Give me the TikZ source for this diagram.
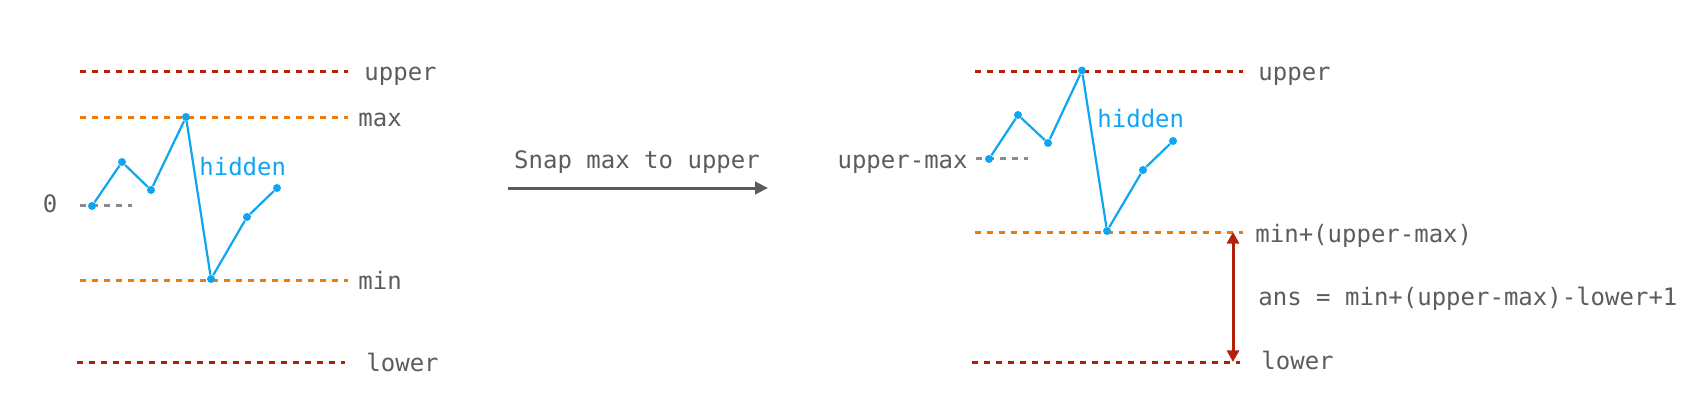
\documentclass[tikz,border=0pt]{standalone}
\usepackage{fontspec}
\setmonofont{DejaVu Sans Mono}
\usetikzlibrary{arrows.meta,positioning,calc}

\definecolor{boundred}{HTML}{B3200A}
\definecolor{extorange}{HTML}{EE7A0C}
\definecolor{seqblue}{HTML}{0EA5F2}
\definecolor{txtgray}{HTML}{5C5C5C}
\definecolor{zerogray}{HTML}{8C8C8C}

\tikzset{
  bound/.style={draw=boundred, line width=1.5pt, dash pattern=on 3pt off 3pt},
  extreme/.style={draw=extorange, line width=1.5pt, dash pattern=on 3pt off 3pt},
  zeroline/.style={draw=zerogray, line width=1.5pt, dash pattern=on 3pt off 3pt},
  dot/.style={circle, fill=seqblue, inner sep=0pt, minimum size=4pt},
  series/.style={draw=seqblue, line width=1.1pt},
  lbl/.style={text=txtgray, inner sep=0pt, anchor=mid west},
  hid/.style={text=seqblue, inner sep=0pt, anchor=mid west},
  flow/.style={draw=txtgray, line width=1.5pt, -{Triangle[length=6.5pt,width=6.2pt]}},
  span/.style={draw=boundred, line width=1.5pt, {Triangle[length=5.8pt,width=6pt]}-{Triangle[length=5.8pt,width=6pt]}}
}

\begin{document}
\begin{tikzpicture}[x=0.5pt, y=-0.5pt, font=\ttfamily\fontsize{12}{14}\selectfont]

\useasboundingbox (0,0) rectangle (1706,418);

% Left: bounds and extremes
\coordinate (lupA) at (80,71);   \coordinate (lupB) at (348,71);
\coordinate (lmaxA) at (80,117); \coordinate (lmaxB) at (348,117);
\coordinate (lminA) at (80,280); \coordinate (lminB) at (348,280);
\coordinate (llowA) at (77,362); \coordinate (llowB) at (345,362);
\coordinate (lzeroA) at (80,205); \coordinate (lzeroB) at (132,205);
\draw[bound] (lupA) -- (lupB);
\draw[extreme] (lmaxA) -- (lmaxB);
\draw[extreme] (lminA) -- (lminB);
\draw[bound] (llowA) -- (llowB);
\draw[zeroline] (lzeroA) -- (lzeroB);

\node[lbl] (lupper) at (364,76) {upper};
\node[lbl] (lmax) at (358,122.5) {max};
\node[lbl] (lmin) at (358,285) {min};
\node[lbl] (llower) at (366,367.5) {lower};
\node[text=txtgray, inner sep=0pt] (lzero) at (50,204) {0};

% Left: hidden sequence
\foreach \n/\x/\y in {1/92/206, 2/122/162, 3/151/190, 4/186/117, 5/211/279, 6/247/217, 7/277/188}
  \node[dot] (a\n) at (\x,\y) {};
\draw[series] (a1) -- (a2) -- (a3) -- (a4) -- (a5) -- (a6) -- (a7);
\node[hid] (lhidden) at (199,171) {hidden};

% Step
\node[text=txtgray, inner sep=0pt, anchor=mid] (snap) at (637,164) {Snap max to upper};
\coordinate (snapA) at (508,188); \coordinate (snapB) at (768,188);
\draw[flow] (snapA) -- (snapB);

% Right: bounds and extremes
\coordinate (rupA) at (975,71);   \coordinate (rupB) at (1243,71);
\coordinate (rminA) at (975,232); \coordinate (rminB) at (1243,232);
\coordinate (rlowA) at (972,362); \coordinate (rlowB) at (1240,362);
\coordinate (rzeroA) at (976,158.5); \coordinate (rzeroB) at (1028,158.5);
\draw[bound] (rupA) -- (rupB);
\draw[extreme] (rminA) -- (rminB);
\draw[bound] (rlowA) -- (rlowB);
\draw[zeroline] (rzeroA) -- (rzeroB);

\node[lbl] (rupper) at (1258,76) {upper};
\node[lbl] (rmin) at (1255,238) {min+(upper-max)};
\node[lbl] (rans) at (1258,301.5) {ans = min+(upper-max)-lower+1};
\node[lbl] (rlower) at (1261,365.5) {lower};
\node[text=txtgray, inner sep=0pt, anchor=mid east] (rshift) at (968,164) {upper-max};

% Right: shifted sequence
\foreach \n/\x/\y in {1/989/159, 2/1018/115, 3/1048/143, 4/1082/70.5, 5/1107/231, 6/1143/170, 7/1173/141}
  \node[dot] (b\n) at (\x,\y) {};
\draw[series] (b1) -- (b2) -- (b3) -- (b4) -- (b5) -- (b6) -- (b7);
\node[hid] (rhidden) at (1097,123.5) {hidden};

% Answer span
\coordinate (spanTop) at (1233,232); \coordinate (spanBot) at (1233,362);
\draw[span] (spanTop) -- (spanBot);

\end{tikzpicture}
\end{document}
